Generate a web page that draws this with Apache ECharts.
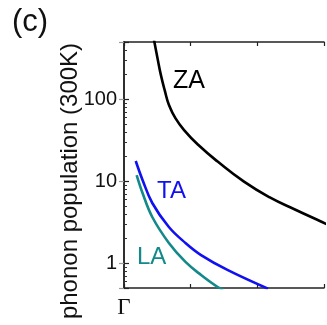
<!DOCTYPE html>
<html><head><meta charset="utf-8">
<script src="https://cdn.jsdelivr.net/npm/echarts@6/dist/echarts.min.js"></script>
<style>html,body{margin:0;padding:0;background:#fff}#c{width:327px;height:325px}</style>
</head><body><div id="c"></div>
<script>
// wavevector position (arbitrary units from Γ) and phonon population (300K)
const zaX = [0.42, 0.454, 0.502, 0.552, 0.615, 0.673, 0.771, 0.918, 1.112, 1.405, 1.80, 2.18, 2.58, 2.97, 3.1];
const zaY = [700, 510, 319, 200, 125, 86, 59, 40.7, 27.9, 17.4, 9.9, 6.4, 4.47, 3.19, 2.85];
const taX = [0.176, 0.278, 0.424, 0.673, 0.922, 1.156, 1.551, 2.16];
const taY = [17.7, 10.4, 5.44, 2.77, 1.77, 1.26, 0.83, 0.49];
const laX = [0.19, 0.278, 0.424, 0.673, 0.922, 1.156, 1.405, 1.49];
const laY = [11.9, 7.2, 3.67, 1.77, 1.04, 0.72, 0.514, 0.48];
const yTicks = [1, 10, 100];
const xLabel0 = 'Γ';
const names = ['ZA', 'TA', 'LA'];
const colors = ['#000000', '#1010f0', '#13898a'];

const zip = (a, b) => a.map((v, i) => [v, b[i]]);
const font = '"Liberation Sans", Arial, sans-serif';
const axisLine = {show: true, lineStyle: {color: '#222', width: 1.5}};

const chart = echarts.init(document.getElementById('c'), null, {renderer: 'canvas'});
chart.setOption({
  animation: false,
  backgroundColor: '#fff',
  grid: {left: 124, top: 42, width: 205, height: 246, show: false},
  xAxis: [{
    type: 'value', min: 0, max: 3, interval: 1, position: 'bottom',
    axisLine: axisLine, splitLine: {show: false},
    axisTick: {show: true, inside: true, length: 4, lineStyle: {color: '#222', width: 1.2}},
    axisLabel: {formatter: v => v === 0 ? xLabel0 : '', fontFamily: '"Liberation Serif", "Times New Roman", serif',
      fontSize: 23, color: '#111', margin: 8, showMinLabel: true}
  }, {
    type: 'value', min: 0, max: 3, interval: 1, position: 'top',
    axisLine: axisLine, splitLine: {show: false},
    axisTick: {show: true, inside: true, length: 4, lineStyle: {color: '#222', width: 1.2}},
    axisLabel: {show: false}
  }],
  yAxis: [{
    type: 'log', logBase: 10, min: 0.5, max: 500, position: 'left',
    axisLine: axisLine, splitLine: {show: false},
    axisTick: {show: true, inside: true, length: 5, lineStyle: {color: '#222', width: 1.2}},
    minorTick: {show: true, splitNumber: 9, length: 3, lineStyle: {color: '#333', width: 1}},
    axisLabel: {formatter: v => yTicks.some(t => Math.abs(t - v) < 1e-6) ? String(Math.round(v)) : '',
      fontFamily: font, fontSize: 20, color: '#111', margin: 7}
  }, {
    type: 'log', logBase: 10, min: 0.5, max: 500, position: 'right',
    axisLine: axisLine, splitLine: {show: false},
    axisTick: {show: true, inside: true, length: 5, lineStyle: {color: '#999', width: 1.2}},
    axisLabel: {show: false}
  }],
  series: [
    {type: 'line', name: names[0], data: zip(zaX, zaY), smooth: 0.5, showSymbol: false, clip: true,
     lineStyle: {color: colors[0], width: 2.6}},
    {type: 'line', name: names[1], data: zip(taX, taY), smooth: 0.4, showSymbol: false, clip: true,
     lineStyle: {color: colors[1], width: 2.6}},
    {type: 'line', name: names[2], data: zip(laX, laY), smooth: 0.4, showSymbol: false, clip: true,
     lineStyle: {color: colors[2], width: 2.6}}
  ],
  graphic: [
    {type: 'text', left: 12, top: 7, style: {text: '(c)', font: '31px ' + font, fill: '#111'}},
    {type: 'text', x: 70, y: 181, rotation: Math.PI / 2,
     style: {text: 'phonon population (300K)', font: '24px ' + font, fill: '#111', align: 'center', verticalAlign: 'middle'}},
    {type: 'text', x: 173, y: 81, style: {text: names[0], font: '25px ' + font, fill: colors[0], verticalAlign: 'middle'}},
    {type: 'text', x: 157, y: 191, style: {text: names[1], font: '24px ' + font, fill: colors[1], verticalAlign: 'middle'}},
    {type: 'text', x: 137, y: 257, style: {text: names[2], font: '24px ' + font, fill: colors[2], verticalAlign: 'middle'}}
  ]
});
</script></body></html>
